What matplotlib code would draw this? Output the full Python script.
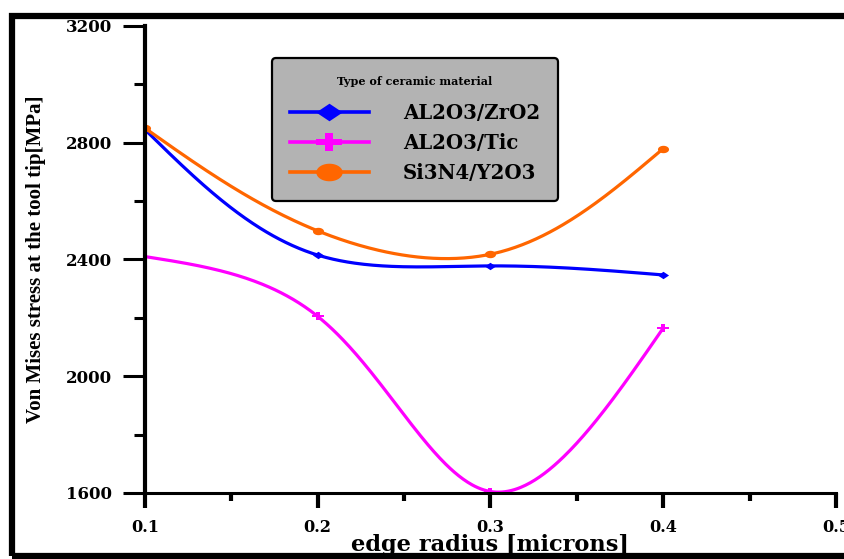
import numpy as np
import matplotlib.pyplot as plt
from matplotlib.patches import Rectangle
from matplotlib.ticker import MultipleLocator

# data
edge_radius = [0.1, 0.2, 0.3, 0.4]
zro2 = [2845, 2415, 2378, 2347]
tic = [2410, 2205, 1605, 2165]
si3n4 = [2850, 2498, 2418, 2780]

series_names = ["AL2O3/ZrO2", "AL2O3/Tic", "Si3N4/Y2O3"]
colors = ["#0000ff", "#ff00ff", "#ff6600"]

# the original looks stretched sideways, so the markers are wider than tall
sx = 1.5
diamond = [(-sx, 0), (0, 1), (sx, 0), (0, -1)]
a = 0.32
plus = [(-1, -a), (-a, -a), (-a, -1), (a, -1), (a, -a), (1, -a),
        (1, a), (a, a), (a, 1), (-a, 1), (-a, a), (-1, a)]
plus = [(px * sx, py) for px, py in plus]
th = np.linspace(0, 2 * np.pi, 40)
ellipse = list(zip(sx * np.cos(th), np.sin(th)))
markers = [diamond, plus, ellipse]

XLIM = (0.1, 0.5)
YLIM = (1600, 3200)


def spline_1d(t, y, ts):
    # natural cubic spline y(t) evaluated at ts
    k = len(t)
    h = np.diff(t)
    A = np.zeros((k, k))
    b = np.zeros(k)
    A[0, 0] = A[-1, -1] = 1
    for i in range(1, k - 1):
        A[i, i - 1] = h[i - 1]
        A[i, i] = 2 * (h[i - 1] + h[i])
        A[i, i + 1] = h[i]
        b[i] = 6 * ((y[i + 1] - y[i]) / h[i] - (y[i] - y[i - 1]) / h[i - 1])
    M = np.linalg.solve(A, b)
    idx = np.clip(np.searchsorted(t, ts) - 1, 0, k - 2)
    t0, t1 = t[idx], t[idx + 1]
    hh = t1 - t0
    d0 = t1 - ts
    d1 = ts - t0
    return (M[idx] * d0**3 + M[idx + 1] * d1**3) / (6 * hh) \
        + (y[idx] / hh - M[idx] * hh / 6) * d0 \
        + (y[idx + 1] / hh - M[idx + 1] * hh / 6) * d1


def smooth_line(x, y, n=300):
    # parametric spline in screen-like units, only for drawing the line
    px = (np.asarray(x, float) - XLIM[0]) / (XLIM[1] - XLIM[0]) * 691
    py = (np.asarray(y, float) - YLIM[0]) / (YLIM[1] - YLIM[0]) * 467
    t = np.concatenate([[0], np.cumsum(np.hypot(np.diff(px), np.diff(py)))])
    ts = np.linspace(0, t[-1], n)
    sxp = spline_1d(t, px, ts)
    syp = spline_1d(t, py, ts)
    return (XLIM[0] + sxp / 691 * (XLIM[1] - XLIM[0]),
            YLIM[0] + syp / 467 * (YLIM[1] - YLIM[0]))


plt.rcParams['font.family'] = ['DejaVu Serif']

fig = plt.figure(figsize=(8.45, 5.59), dpi=100)
ax = fig.add_axes([0.1716, 0.1181, 0.8177, 0.8354])

for vals, name, c, m in zip([zro2, tic, si3n4], series_names, colors, markers):
    xs, ys = smooth_line(edge_radius, vals)
    ax.plot(xs, ys, color=c, lw=2.3)
    ax.plot(edge_radius, vals, linestyle='none', marker=m, color=c,
            markersize=8, markeredgewidth=0)
    # legend handle with a bigger marker
    ax.plot([], [], color=c, lw=2.6, marker=m, markersize=19,
            markeredgewidth=0, label=name)

ax.set_xlim(*XLIM)
ax.set_ylim(*YLIM)
ax.xaxis.set_major_locator(MultipleLocator(0.1))
ax.xaxis.set_minor_locator(MultipleLocator(0.05))
ax.yaxis.set_major_locator(MultipleLocator(400))
ax.yaxis.set_minor_locator(MultipleLocator(200))

for s in ['top', 'right']:
    ax.spines[s].set_visible(False)
ax.spines['left'].set_linewidth(3.0)
ax.spines['bottom'].set_linewidth(2.2)

ax.tick_params(axis='x', which='major', direction='out', length=10.5, width=3.0,
               labelsize=11.6, pad=8)
ax.tick_params(axis='x', which='minor', direction='out', length=5.5, width=3.0)
ax.tick_params(axis='y', which='major', direction='out', length=16, width=2.2,
               labelsize=12, pad=8)
ax.tick_params(axis='y', which='minor', direction='out', length=8, width=2.2)
for lab in ax.get_xticklabels() + ax.get_yticklabels():
    lab.set_fontweight('bold')

ax.set_xlabel("edge radius [microns]", fontsize=16.2, fontweight='bold', labelpad=-1)
ax.set_ylabel("Von Mises stress at the tool tip[MPa]", fontsize=15,
              fontweight='bold', family='Liberation Serif', labelpad=14)

leg = ax.legend(title="Type of ceramic material", loc='upper left',
                bbox_to_anchor=(0.1838, 0.9315), borderaxespad=0,
                fontsize=14.2, handlelength=4.0, labelspacing=0.5,
                borderpad=0.9, handletextpad=1.75,
                fancybox=True, facecolor='#b3b3b3', edgecolor='black',
                framealpha=1, title_fontproperties={'size': 8, 'weight': 'bold'})
leg.get_frame().set_linewidth(1.6)
leg._legend_box.sep = 12
for t in leg.get_texts():
    t.set_fontweight('bold')

# thick frame round the picture
fig.patches.append(Rectangle((0.0142, 0.006), 1.2, 0.9654, transform=fig.transFigure,
                             fill=False, lw=4.5, edgecolor='black', clip_on=False))

plt.savefig("out.png")
